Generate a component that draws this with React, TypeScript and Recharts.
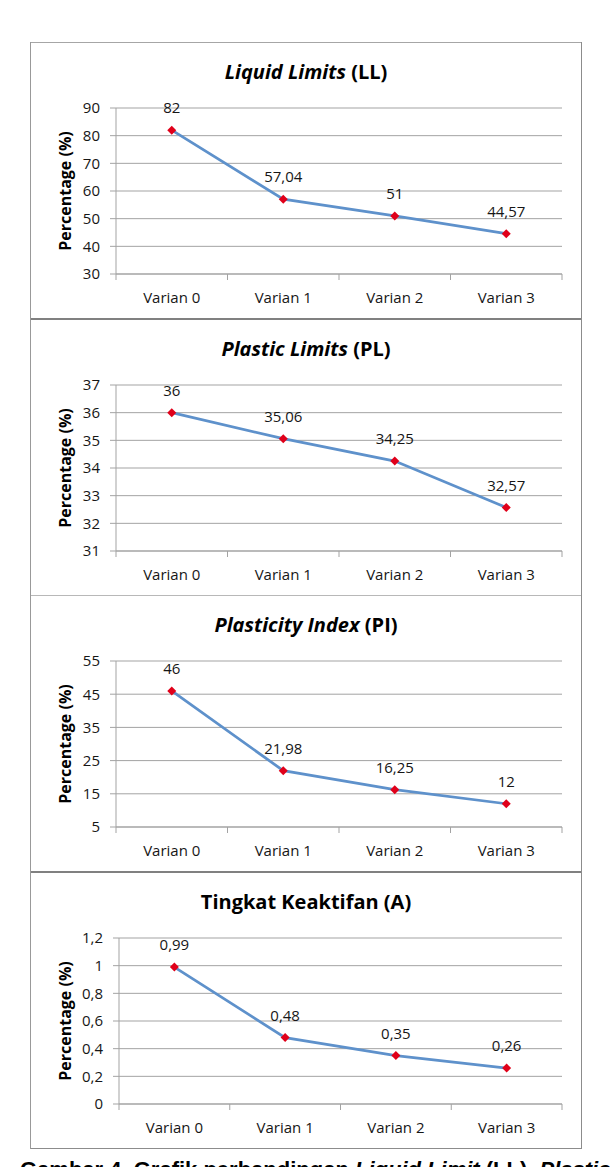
import React from 'react';
import { LineChart, Line, XAxis, YAxis, CartesianGrid, LabelList } from 'recharts';

const categories = ['Varian 0', 'Varian 1', 'Varian 2', 'Varian 3'];

const liquidLimit = [82, 57.04, 51, 44.57];
const plasticLimit = [36, 35.06, 34.25, 32.57];
const plasticityIndex = [46, 21.98, 16.25, 12];
const activity = [0.99, 0.48, 0.35, 0.26];

const llTicks = [30, 40, 50, 60, 70, 80, 90];
const plTicks = [31, 32, 33, 34, 35, 36, 37];
const piTicks = [5, 15, 25, 35, 45, 55];
const aTicks = [0, 0.2, 0.4, 0.6, 0.8, 1, 1.2];

const FONT = '"Open Sans", sans-serif';
const GRID = '#a3a3a3';
const TEXT = '#161616';
const LINE = '#5e91cb';
const MARKER = '#e0001a';

const CHART_W = 552;
const CHART_H = 276;
const MARGIN_TOP = 65;
const PLOT_H = 166;
const TICK_SIZE = 6;
const TICK_MARGIN = 12;

// comma as decimal separator
const fmt = (v: any) => String(v).replace('.', ',');

type Panel = {
  title: React.ReactNode;
  values: number[];
  ticks: number[];
  plotTop: number;
  axisWidth: number;
};

const panels: Panel[] = [
  {
    title: (
      <>
        <i>Liquid Limits</i> (LL)
      </>
    ),
    values: liquidLimit,
    ticks: llTicks,
    plotTop: 108,
    axisWidth: 61,
  },
  {
    title: (
      <>
        <i>Plastic Limits</i> (PL)
      </>
    ),
    values: plasticLimit,
    ticks: plTicks,
    plotTop: 385,
    axisWidth: 61,
  },
  {
    title: (
      <>
        <i>Plasticity Index</i> (PI)
      </>
    ),
    values: plasticityIndex,
    ticks: piTicks,
    plotTop: 661,
    axisWidth: 61,
  },
  {
    title: <>Tingkat Keaktifan (A)</>,
    values: activity,
    ticks: aTicks,
    plotTop: 938,
    axisWidth: 64,
  },
];

// category label plus tick marks on the band edges
const CategoryTick = (props: any) => {
  const { x, y, payload, index } = props;
  const half = payload?.offset || 0;
  const axisY = y - TICK_SIZE - TICK_MARGIN;
  const last = index === categories.length - 1;
  return (
    <g>
      <line x1={x - half} x2={x - half} y1={axisY} y2={axisY + TICK_SIZE} stroke={GRID} />
      {last && (
        <line x1={x + half} x2={x + half} y1={axisY} y2={axisY + TICK_SIZE} stroke={GRID} />
      )}
      <text
        x={x}
        y={y}
        dy="0.71em"
        textAnchor="middle"
        fill={TEXT}
        fontSize={15}
        fontFamily={FONT}
      >
        {payload.value}
      </text>
    </g>
  );
};

const Diamond = (props: any) => {
  const { cx, cy, index } = props;
  if (cx == null || cy == null) return <g key={index} />;
  const r = 4.5;
  return (
    <path
      key={index}
      d={`M${cx},${cy - r}L${cx + r},${cy}L${cx},${cy + r}L${cx - r},${cy}Z`}
      fill={MARKER}
    />
  );
};

function MetricPanel({ panel }: { panel: Panel }) {
  const data = categories.map((name, i) => ({ name, value: panel.values[i] }));
  const lo = panel.ticks[0];
  const hi = panel.ticks[panel.ticks.length - 1];
  const top = panel.plotTop - MARGIN_TOP;

  return (
    <div style={{ position: 'absolute', left: 30, top, width: CHART_W, height: CHART_H }}>
      <div
        style={{
          position: 'absolute',
          left: 0,
          width: CHART_W,
          top: MARGIN_TOP - 36 - 14,
          height: 28,
          lineHeight: '28px',
          textAlign: 'center',
          fontFamily: FONT,
          fontWeight: 700,
          fontSize: 20,
          color: '#000',
        }}
      >
        {panel.title}
      </div>
      <div
        style={{
          position: 'absolute',
          left: 35,
          top: MARGIN_TOP + PLOT_H / 2,
          transform: 'translate(-50%, -50%) rotate(-90deg)',
          whiteSpace: 'nowrap',
          fontFamily: FONT,
          fontWeight: 700,
          fontSize: 16,
          color: '#000',
        }}
      >
        Percentage (%)
      </div>
      <LineChart
        width={CHART_W}
        height={CHART_H}
        data={data}
        margin={{ top: MARGIN_TOP, right: 20, bottom: 15, left: 25 }}
      >
        <CartesianGrid vertical={false} stroke={GRID} />
        <XAxis
          dataKey="name"
          scale="band"
          height={30}
          axisLine={{ stroke: GRID }}
          tickLine={false}
          tickSize={TICK_SIZE}
          tickMargin={TICK_MARGIN}
          tick={<CategoryTick />}
          interval={0}
        />
        <YAxis
          width={panel.axisWidth}
          domain={[lo, hi]}
          ticks={panel.ticks}
          interval={0}
          allowDataOverflow
          axisLine={{ stroke: GRID }}
          tickLine={{ stroke: GRID }}
          tickSize={TICK_SIZE}
          tickMargin={10}
          tickFormatter={fmt}
          tick={{ fill: TEXT, fontSize: 15, fontFamily: FONT }}
        />
        <Line
          type="linear"
          dataKey="value"
          stroke={LINE}
          strokeWidth={2.75}
          dot={Diamond}
          activeDot={false}
          isAnimationActive={false}
        >
          <LabelList
            dataKey="value"
            position="top"
            offset={17}
            formatter={fmt}
            fill={TEXT}
            fontSize={15}
            fontFamily={FONT}
          />
        </Line>
      </LineChart>
    </div>
  );
}

// frame lines between the stacked charts
const rules = [
  { y: 42, h: 1, c: '#a6a6a6' },
  { y: 318, h: 2, c: '#808080' },
  { y: 595, h: 1, c: '#b8b8b8' },
  { y: 871, h: 2, c: '#808080' },
  { y: 1148, h: 1, c: '#8c8c8c' },
];

export default function App() {
  return (
    <div
      style={{
        position: 'absolute',
        left: 0,
        top: 0,
        width: 614,
        height: 1167,
        overflow: 'hidden',
        background: '#fff',
      }}
    >
      {rules.map((r, i) => (
        <div
          key={i}
          style={{ position: 'absolute', left: 30, width: 552, top: r.y, height: r.h, background: r.c }}
        />
      ))}
      <div style={{ position: 'absolute', left: 30, top: 42, width: 1, height: 1107, background: '#999' }} />
      <div style={{ position: 'absolute', left: 581, top: 42, width: 1, height: 1107, background: '#8c8c8c' }} />
      {panels.map((p, i) => (
        <MetricPanel key={i} panel={p} />
      ))}
      <div
        style={{
          position: 'absolute',
          left: 20,
          top: 1159,
          whiteSpace: 'nowrap',
          fontFamily: '"Liberation Sans", Arial, sans-serif',
          fontWeight: 700,
          fontSize: 22,
          lineHeight: '22px',
          color: '#000',
        }}
      >
        Gambar 4. Grafik perbandingan <i>Liquid Limit</i> (LL), <i>Plastic Limit</i> (PL)
      </div>
    </div>
  );
}
